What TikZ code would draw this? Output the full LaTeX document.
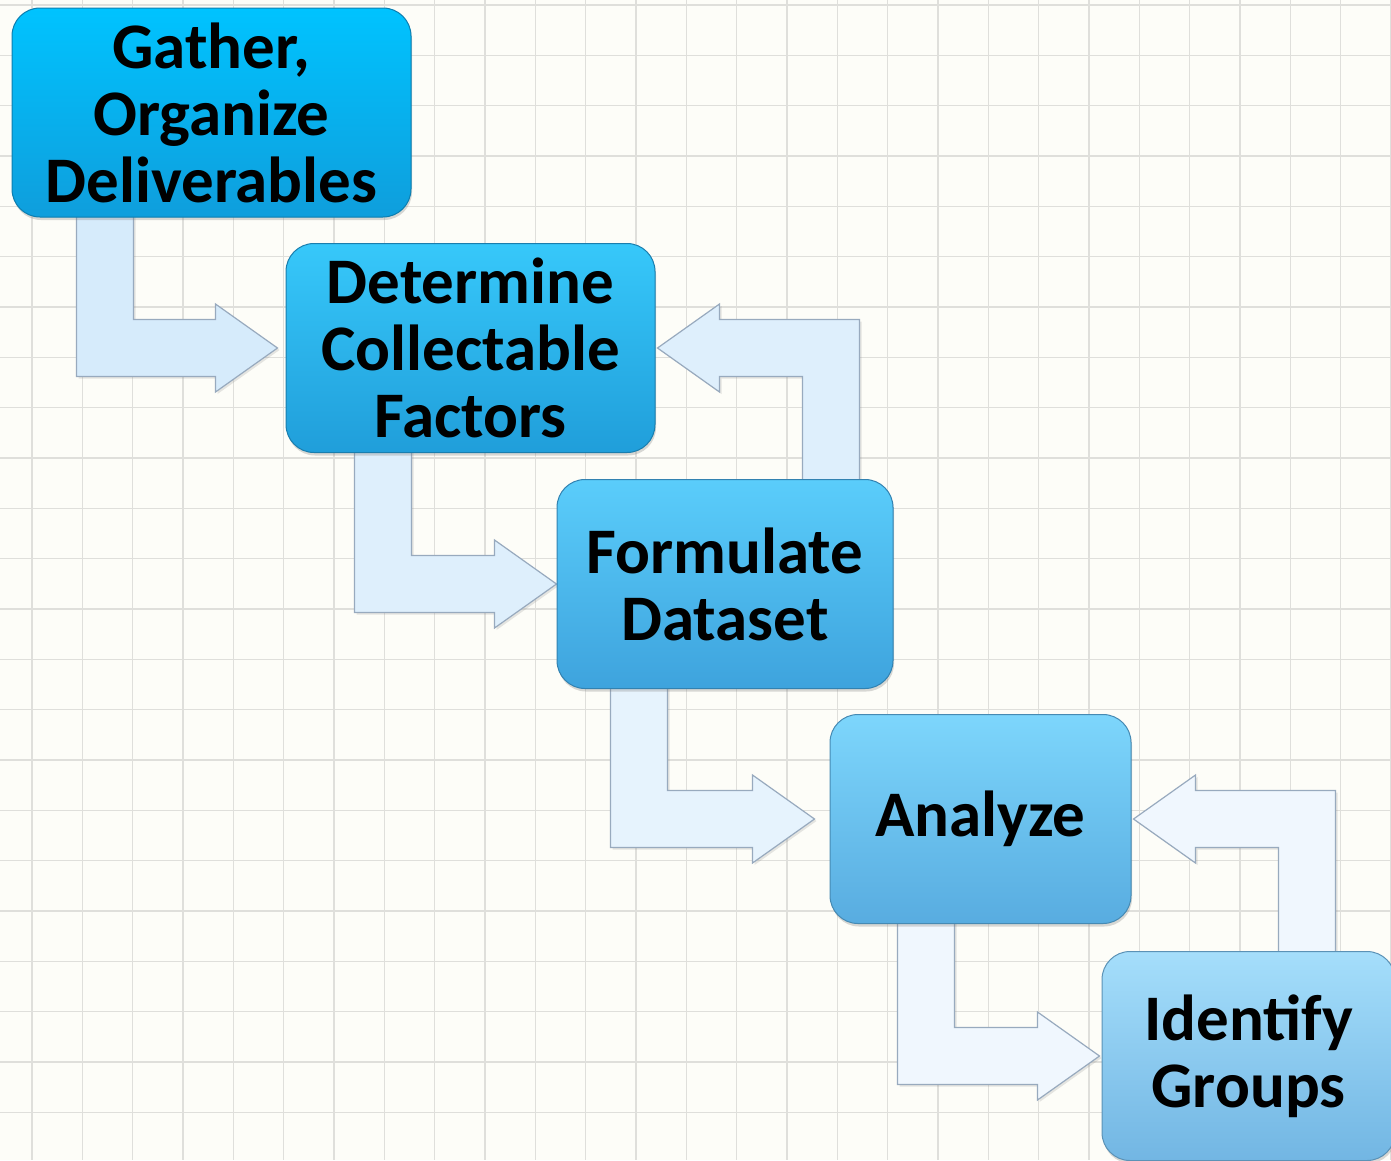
\documentclass[tikz,border=0pt]{standalone}
\usepackage{fontspec}
\setmainfont{Carlito}
\usetikzlibrary{calc,shadows}

\definecolor{paper}{RGB}{253,253,248}
\definecolor{gridgray}{RGB}{223,223,219}
\definecolor{arrowline}{RGB}{152,170,190}
% stage colours, top and bottom of each box
\definecolor{gatherTop}{RGB}{0,195,255}
\definecolor{gatherBot}{RGB}{15,158,220}
\definecolor{determineTop}{RGB}{55,200,250}
\definecolor{determineBot}{RGB}{32,158,218}
\definecolor{formulateTop}{RGB}{90,205,251}
\definecolor{formulateBot}{RGB}{62,163,221}
\definecolor{analyzeTop}{RGB}{125,214,252}
\definecolor{analyzeBot}{RGB}{88,172,224}
\definecolor{identifyTop}{RGB}{165,222,251}
\definecolor{identifyBot}{RGB}{114,182,227}
% arrow fills
\definecolor{arrowA}{RGB}{214,235,251}
\definecolor{arrowB}{RGB}{222,239,252}
\definecolor{arrowC}{RGB}{230,243,253}
\definecolor{arrowD}{RGB}{240,247,254}

\pgfdeclarelayer{back}
\pgfsetlayers{back,main}

% L-shaped block arrow: down out of #2, then right into #3
% #1 fill, #4 shaft offset from the left side of #2, #5 gap before #3
\newcommand{\fwdstep}[5]{%
  \begin{pgfonlayer}{back}
  \filldraw[blockarrow, fill=#1] ($(#2.south west)+(#4,-8)$) coordinate (s)
    -- ++(57,0) |- ($(#3.west)+(-#5-62,-28.5)$) -- ++(0,-15.5)
    -- ($(#3.west)+(-#5,0)$) -- ++(-62,44) -- ++(0,-15.5) -| (s) -- cycle;
  \end{pgfonlayer}}

% L-shaped block arrow: up out of #2, then left into #3
\newcommand{\backstep}[3]{%
  \begin{pgfonlayer}{back}
  \path ($(#3.east)+(147,0)$) coordinate (k);
  \filldraw[blockarrow, fill=#1] ($(k |- #2.north)+(0,8)$) coordinate (s)
    -- ++(57,0) |- ($(#3.east)+(64,-28.5)$) -- ++(0,-15.5)
    -- ($(#3.east)+(2,0)$) -- ++(62,44) -- ++(0,-15.5) -| (s) -- cycle;
  \end{pgfonlayer}}

\begin{document}
\begin{tikzpicture}[x=1pt, y=-1pt,
    stage/.style={rounded corners=28pt, inner sep=0pt, align=center,
      minimum height=209pt, top color=#1Top, bottom color=#1Bot, draw=#1Bot!80!black,
      line width=1pt, font=\fontsize{65}{67}\selectfont\bfseries,
      drop shadow={opacity=0.3, shadow xshift=1pt, shadow yshift=-3pt}},
    blockarrow/.style={draw=arrowline, line width=1.2pt, line join=miter,
      drop shadow={opacity=0.2, shadow xshift=2pt, shadow yshift=-2pt}},
    gridline/.style={gridgray, line width=1.4pt}]

  \useasboundingbox (0,0) rectangle (1391,1160);
  \clip (0,0) rectangle (1391,1160);

  % paper and grid
  \begin{pgfonlayer}{back}
    \fill[paper] (0,0) rectangle (1391,1160);
    \foreach \i in {0,...,27}
      \draw[gridline] ({32+50.33*\i},0) -- ++(0,1160);
    \foreach \j in {0,...,23}
      \draw[gridline] (0,{5+50.33*\j}) -- ++(1391,0);
  \end{pgfonlayer}

  % the five stages
  \node[stage=gather, minimum width=399pt] (gather) at (211.5,112.5) {Gather,\\Organize\\Deliverables};
  \node[stage=determine, minimum width=369pt] (determine) at (470.5,348) {Determine\\Collectable\\Factors};
  \node[stage=formulate, minimum width=336pt] (formulate) at (725,584) {Formulate\\Dataset};
  \node[stage=analyze, minimum width=301pt] (analyze) at (980.5,819) {Analyze};
  \node[stage=identify, minimum width=293pt] (identify) at (1248.5,1056) {Identify\\Groups};

  % arrows between the stages
  \fwdstep{arrowA}{gather}{determine}{65}{8}
  \fwdstep{arrowB}{determine}{formulate}{69}{0}
  \fwdstep{arrowC}{formulate}{analyze}{54}{15}
  \fwdstep{arrowD}{analyze}{identify}{68}{2}
  \backstep{arrowB}{formulate}{determine}
  \backstep{arrowD}{identify}{analyze}

\end{tikzpicture}
\end{document}
